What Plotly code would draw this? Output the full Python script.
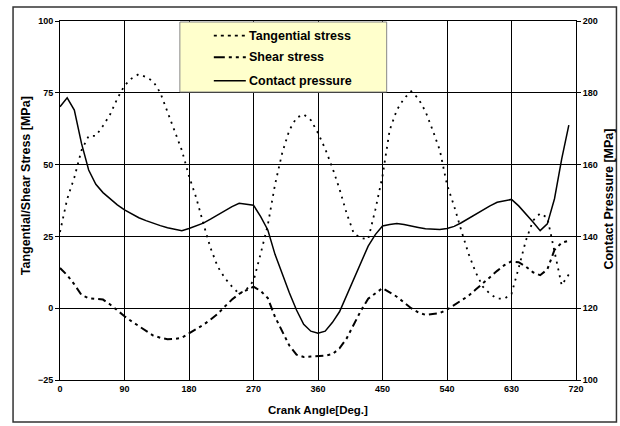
import plotly.graph_objects as go

angle = list(range(0, 720, 10))

tangential = [26.5, 38, 45.5, 55, 60, 60, 63.5, 67.5, 73, 77.5,
              80, 81.5, 80.5, 79, 75, 68.5, 62, 55, 46, 38.5,
              29.5, 21, 14.5, 10.5, 7.5, 5, 6.5, 9.5, 19, 29,
              43, 54, 62, 66.3, 67.5, 65.5, 61, 55.5, 49, 41.5,
              33, 26, 24.4, 24, 34.3, 46, 62, 69, 73, 75.5,
              73, 68.5, 62, 55, 43, 35.5, 27, 19, 12.5, 7.5,
              5, 3.3, 3.3, 5, 14, 23.5, 30.5, 33, 31.5, 20,
              8, 11.8]

shear = [14, 11.5, 8.3, 4.6, 3.5, 3.3, 3, 1.3, -0.8, -2.8,
         -4.6, -6.3, -8, -9.5, -10.3, -10.8, -10.7, -10.3, -8.8, -7.3,
         -5.8, -4, -2, 0.6, 3, 5, 6.3, 7.5, 6, 3.5,
         -3, -8, -13, -16.2, -17, -16.8, -16.6, -16.5, -16, -14,
         -10.5, -5.6, -0.8, 3.3, 5.3, 7, 5.5, 4, 2, 0,
         -1.5, -2.3, -2, -1.7, -0.5, 1, 2.5, 4.3, 6.5, 8.5,
         10.8, 13, 15, 16.3, 16, 14.5, 12.5, 11.5, 13.5, 20.3,
         22.8, 23.5]

contact = [176.1, 178.6, 175.2, 165.9, 158.5, 154.5, 152.2, 150.5, 148.8, 147.4,
           146.2, 145.2, 144.4, 143.6, 143.0, 142.4, 142.0, 141.6, 142.2, 143.0,
           143.7, 144.8, 146.0, 147.2, 148.3, 149.2, 149.0, 148.7, 145.5, 141.8,
           135.0, 129.5, 124.3, 119.5, 115.5, 113.6, 113.0, 113.6, 116.0, 119.0,
           123.5, 128.5, 133.0, 137.3, 140.5, 142.9, 143.3, 143.6, 143.3, 143.0,
           142.5, 142.1, 142.0, 141.9, 142.2, 142.8, 143.8, 145.0, 146.2, 147.4,
           148.5, 149.5, 150.0, 150.3, 148.5, 146.4, 144.0, 141.6, 143.5, 150.5,
           161.5, 171.0]

x_ticks = [0, 90, 180, 270, 360, 450, 540, 630, 720]
left_ticks = [-25, 0, 25, 50, 75, 100]
right_ticks = [100, 120, 140, 160, 180, 200]

series_names = ["Tangential stress", "Shear stress", "Contact pressure"]

FONT = "Arial, Liberation Sans, sans-serif"
TANG_DASH = "2px,5px"
SHEAR_DASH = "8px,4px,3px,4px,3px,4px"

fig = go.Figure()
fig.add_trace(go.Scatter(x=angle, y=tangential, mode="lines", name=series_names[0],
                         line=dict(color="black", width=1.8, dash=TANG_DASH),
                         showlegend=False))
fig.add_trace(go.Scatter(x=angle, y=shear, mode="lines", name=series_names[1],
                         line=dict(color="black", width=2, dash=SHEAR_DASH),
                         showlegend=False))
fig.add_trace(go.Scatter(x=angle, y=contact, mode="lines", name=series_names[2],
                         line=dict(color="black", width=1.5),
                         yaxis="y2", showlegend=False))

tickfont = dict(family=FONT, size=9, color="black", weight="bold")

fig.update_layout(
    width=620, height=426,
    margin=dict(l=60, r=43.5, t=21, b=46),
    paper_bgcolor="white", plot_bgcolor="white",
    xaxis=dict(range=[0, 720], tickvals=x_ticks, showgrid=True,
               gridcolor="black", gridwidth=1, showline=True, linecolor="black",
               linewidth=1, mirror=True, ticks="", tickfont=tickfont, zeroline=False),
    yaxis=dict(range=[-25, 100], tickvals=left_ticks, showgrid=True,
               gridcolor="black", gridwidth=1, showline=True, linecolor="black",
               linewidth=1, ticks="outside", ticklen=4, tickcolor="black",
               tickfont=tickfont, zeroline=False),
    yaxis2=dict(range=[100, 200], tickvals=right_ticks, overlaying="y", side="right",
                showgrid=False, showline=True, linecolor="black", linewidth=1,
                ticks="outside", ticklen=4, tickcolor="black", tickfont=tickfont,
                zeroline=False),
    showlegend=False,
)

# outer frame
fig.add_shape(type="rect", xref="paper", yref="paper",
              x0=-0.091, x1=1.0784, y0=-0.117, y1=1.039,
              line=dict(color="#333333", width=1.5), fillcolor="rgba(0,0,0,0)",
              layer="below")

# legend box (manual)
lx0, lx1, ly0, ly1 = 0.2323, 0.6331, 0.8022, 0.9972
fig.add_shape(type="rect", xref="paper", yref="paper", x0=lx0, x1=lx1, y0=ly0, y1=ly1,
              line=dict(color="#888888", width=1), fillcolor="#FFFFCC", layer="above")
rows = [0.9590, 0.8989, 0.8337]
styles = [dict(width=1.8, dash="3px,4px"), dict(width=2, dash="11px,4px,3px,4px,3px,4px"),
          dict(width=1.5, dash="solid")]
for name, ry, st in zip(series_names, rows, styles):
    fig.add_shape(type="line", xref="paper", yref="paper", x0=0.2981, x1=0.3601,
                  y0=ry, y1=ry, line=dict(color="black", **st), layer="above")
    fig.add_annotation(xref="paper", yref="paper", x=0.3620, y=ry, text=name,
                       showarrow=False, xanchor="left", yanchor="middle",
                       font=dict(family=FONT, size=12.5, color="black", weight="bold"))

fig.add_annotation(xref="paper", yref="paper", x=0.5, y=-0.083, text="Crank Angle[Deg.]",
                   showarrow=False, xanchor="center", yanchor="middle",
                   font=dict(family=FONT, size=11.5, color="black", weight="bold"))
fig.add_annotation(xref="paper", yref="paper", x=-0.0658, y=0.540,
                   text="Tangential/Shear Stress [MPa]", textangle=-90,
                   showarrow=False, xanchor="center", yanchor="middle",
                   font=dict(family=FONT, size=12.5, color="black", weight="bold"))
fig.add_annotation(xref="paper", yref="paper", x=1.0649, y=0.504,
                   text="Contact Pressure [MPa]", textangle=-90,
                   showarrow=False, xanchor="center", yanchor="middle",
                   font=dict(family=FONT, size=12.5, color="black", weight="bold"))

fig.write_html("out.html")
